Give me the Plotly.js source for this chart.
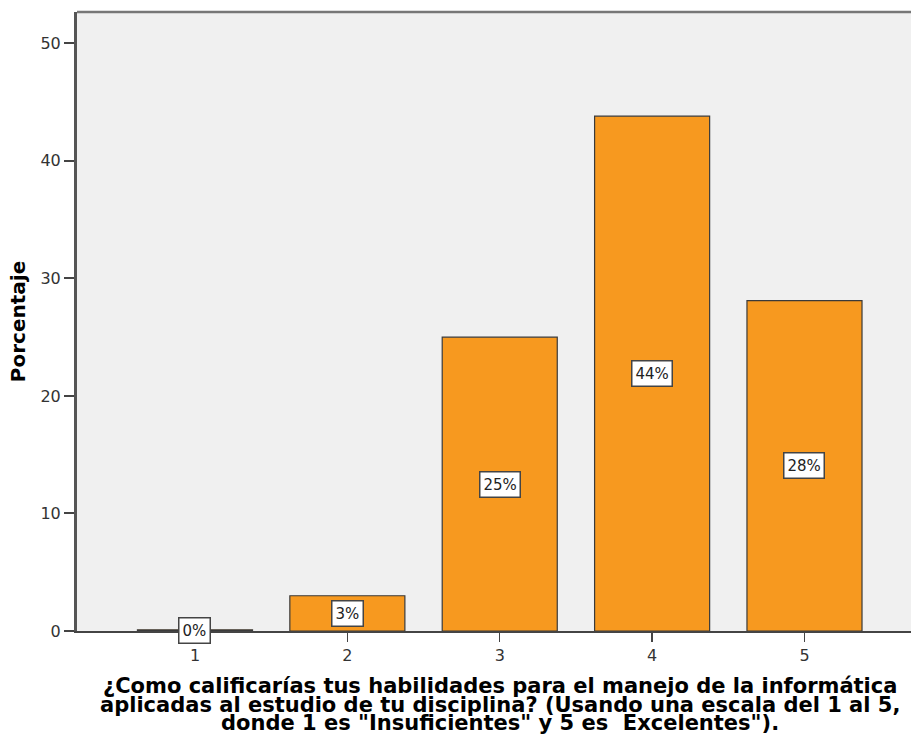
<!DOCTYPE html>
<html>
<head>
<meta charset="utf-8">
<script src="https://cdn.plot.ly/plotly-3.0.1.min.js"></script>
<style>html,body{margin:0;padding:0;background:#fff;}#chart{width:911px;height:740px;}</style>
</head>
<body>
<div id="chart"></div>
<script>
// Data
var categories = [1, 2, 3, 4, 5];
var percentages = [0.1, 3.0, 25.0, 43.8, 28.1];
var barLabels = ['0%', '3%', '25%', '44%', '28%'];
var yTitle = 'Porcentaje';
var xTitleLines = [
  '¿Como calificarías tus habilidades para el manejo de la informática',
  'aplicadas al estudio de tu disciplina? (Usando una escala del 1 al 5,',
  'donde 1 es "Insuficientes" y 5 es  Excelentes").'
];
var yTicks = [0, 10, 20, 30, 40, 50];

var FONT = 'DejaVu Sans, sans-serif';

var trace = {
  type: 'bar',
  x: categories,
  y: percentages,
  width: 0.755,
  marker: { color: '#f7991f', line: { color: '#3a3a3a', width: 1.2 } },
  hoverinfo: 'none'
};

var annotations = categories.map(function (c, i) {
  return {
    x: c, y: percentages[i] / 2, xref: 'x', yref: 'y',
    text: barLabels[i], showarrow: false,
    font: { family: FONT, size: 15, color: '#222' },
    bgcolor: '#ffffff', bordercolor: '#444', borderwidth: 1.5, borderpad: 3
  };
});

var plotH = 740 - 12 - 109;
var titleYs = [686, 704.5, 723];
xTitleLines.forEach(function (t, i) {
  annotations.push({
    x: 3, xref: 'x', y: (631 - titleYs[i]) / plotH, yref: 'paper',
    yanchor: 'middle', xanchor: 'center', showarrow: false,
    text: '<b>' + t + '</b>',
    font: { family: FONT, size: 21, color: '#000' }
  });
});

var layout = {
  width: 911, height: 740,
  margin: { l: 77, r: 0, t: 12, b: 109 },
  paper_bgcolor: '#ffffff',
  plot_bgcolor: '#f0f0f0',
  showlegend: false,
  bargap: 0.245,
  xaxis: {
    range: [0.2257, 5.699],
    tickvals: categories,
    ticktext: categories.map(String),
    ticks: 'outside', ticklen: 9, tickwidth: 1.5, tickcolor: '#444',
    showgrid: false, zeroline: false,
    showline: true, linecolor: '#444', linewidth: 2,
    tickfont: { family: FONT, size: 16, color: '#333' }
  },
  yaxis: {
    range: [0, 52.66],
    tickvals: yTicks,
    ticks: 'outside', ticklen: 10, tickwidth: 2, tickcolor: '#444',
    showgrid: false, zeroline: false,
    showline: true, linecolor: '#555', linewidth: 3, mirror: false,
    tickfont: { family: FONT, size: 16, color: '#333' },
    title: { text: '<b>' + yTitle + '</b>', font: { family: FONT, size: 20, color: '#000' }, standoff: 10 }
  },
  shapes: [{
    type: 'line', xref: 'paper', yref: 'paper', x0: 0, x1: 1, y0: 1, y1: 1,
    line: { color: '#777', width: 2.5 }
  }],
  annotations: annotations
};

Plotly.newPlot('chart', [trace], layout, { displayModeBar: false, staticPlot: true });
</script>
</body>
</html>
